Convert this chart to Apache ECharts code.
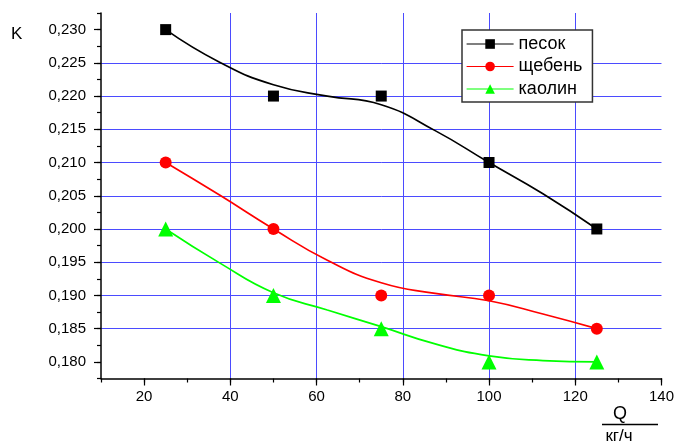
<!DOCTYPE html>
<html><head><meta charset="utf-8">
<script src="https://cdn.jsdelivr.net/npm/echarts@6/dist/echarts.min.js"></script>
<style>html,body{margin:0;padding:0;background:#fff}#c{width:677px;height:444px}</style>
</head><body><div id="c"></div>
<script>
// data points (markers)
const xValues = [25, 50, 75, 100, 125];
const sand = [0.230, 0.220, 0.220, 0.210, 0.200];      // песок
const gravel = [0.210, 0.200, 0.190, 0.190, 0.185];    // щебень
const kaolin = [0.200, 0.190, 0.185, 0.180, 0.180];    // каолин
// fitted curves
const curveX = [25, 37.5, 50, 62.5, 75, 87.5, 100, 112.5, 125];
const sandCurve = [0.2300, 0.2251, 0.2217, 0.2200, 0.2187, 0.2148, 0.2100, 0.2053, 0.2000];
const gravelCurve = [0.2100, 0.2051, 0.2000, 0.1953, 0.1919, 0.1903, 0.1892, 0.1872, 0.1850];
const kaolinCurve = [0.2000, 0.1949, 0.1904, 0.1878, 0.1853, 0.1827, 0.1809, 0.1802, 0.1800];
// tick labels
const yMajor = [0.180, 0.185, 0.190, 0.195, 0.200, 0.205, 0.210, 0.215, 0.220, 0.225, 0.230];
const xMajor = [20, 40, 60, 80, 100, 120, 140];
const names = ['песок', 'щебень', 'каолин'];

const pair = (xs, ys) => xs.map((x, i) => [x, ys[i]]);
const FONT = 'Liberation Sans, Arial, sans-serif';
const GRID = '#4b4bff';

const chart = echarts.init(document.getElementById('c'), null, {renderer: 'canvas'});
const baseX = {type: 'value', min: 10, max: 140, gridIndex: 0, position: 'bottom'};
const baseY = {type: 'value', min: 0.1775, max: 0.2325, gridIndex: 0, position: 'left'};
const colors = ['#000000', '#ff0000', '#00ff00'];
const symbols = ['rect', 'circle', 'triangle'];
const sizes = [11, 12, 15];
const pts = [sand, gravel, kaolin];
const curves = [sandCurve, gravelCurve, kaolinCurve];

const series = [];
for (let i = 0; i < 3; i++) {
  series.push({
    type: 'line', name: names[i], data: pair(curveX, curves[i]), smooth: 0.5,
    showSymbol: false, symbol: symbols[i], symbolSize: sizes[i],
    lineStyle: {color: colors[i], width: 1.7}, itemStyle: {color: colors[i]},
    xAxisIndex: 0, yAxisIndex: 0, z: 3, silent: true
  });
}
for (let i = 0; i < 3; i++) {
  series.push({
    type: 'scatter', name: names[i], data: pair(xValues, pts[i]),
    symbol: symbols[i], symbolSize: sizes[i], itemStyle: {color: colors[i], opacity: 1},
    xAxisIndex: 0, yAxisIndex: 0, z: 4, silent: true
  });
}

chart.setOption({
  animation: false,
  backgroundColor: '#ffffff',
  textStyle: {fontFamily: FONT},
  grid: {left: 101, right: 13, top: 13, bottom: 65.5, containLabel: false},
  xAxis: [
    Object.assign({}, baseX, {
      interval: 10,
      axisLine: {show: true, lineStyle: {color: '#000', width: 1.5}},
      axisTick: {show: true, inside: false, length: 4, lineStyle: {color: '#000', width: 1.2}},
      axisLabel: {show: false}, splitLine: {show: false}
    }),
    Object.assign({}, baseX, {
      axisLine: {show: false},
      axisTick: {show: true, inside: false, length: 7, customValues: xMajor, lineStyle: {color: '#000', width: 1.2}},
      axisLabel: {show: true, customValues: xMajor, margin: 11, fontSize: 15, color: '#000', fontFamily: FONT},
      splitLine: {show: true, showMinLine: false, showMaxLine: false, lineStyle: {color: GRID, width: 1}}
    })
  ],
  yAxis: [
    Object.assign({}, baseY, {
      interval: 0.0025,
      axisLine: {show: true, lineStyle: {color: '#000', width: 1.5}},
      axisTick: {show: true, inside: false, length: 4, lineStyle: {color: '#000', width: 1.2}},
      axisLabel: {show: false}, splitLine: {show: false}
    }),
    Object.assign({}, baseY, {
      axisLine: {show: false},
      axisTick: {show: true, inside: false, length: 7, customValues: yMajor, lineStyle: {color: '#000', width: 1.2}},
      axisLabel: {show: true, customValues: yMajor, margin: 15, fontSize: 15, color: '#000', fontFamily: FONT,
        formatter: v => v.toFixed(3).replace('.', ',')},
      splitLine: {show: true, showMinLine: false, showMaxLine: false, lineStyle: {color: GRID, width: 1}}
    })
  ],
  legend: {
    show: true, orient: 'vertical', left: 462, top: 30,
    data: names,
    backgroundColor: '#fff', borderColor: '#333', borderWidth: 1.5, borderRadius: 0,
    padding: [5, 10, 4, 4], itemGap: 4.5, itemWidth: 47, itemHeight: 12,
    lineStyle: {width: 1.2},
    textStyle: {fontSize: 18, color: '#000', fontFamily: FONT},
    selectedMode: false
  },
  graphic: [
    {type: 'text', left: 11, top: 26, style: {text: 'K', fontSize: 17, fill: '#000', fontFamily: FONT}},
    {type: 'text', x: 620, y: 414, style: {text: 'Q', fontSize: 18, fill: '#000', fontFamily: FONT, align: 'center', verticalAlign: 'middle'}},
    {type: 'line', shape: {x1: 602, y1: 424.5, x2: 658, y2: 424.5}, style: {stroke: '#000', lineWidth: 1.3}},
    {type: 'text', x: 619, y: 436, style: {text: 'кг/ч', fontSize: 17, fill: '#000', fontFamily: FONT, align: 'center', verticalAlign: 'middle'}}
  ],
  series: series
});
</script></body></html>
